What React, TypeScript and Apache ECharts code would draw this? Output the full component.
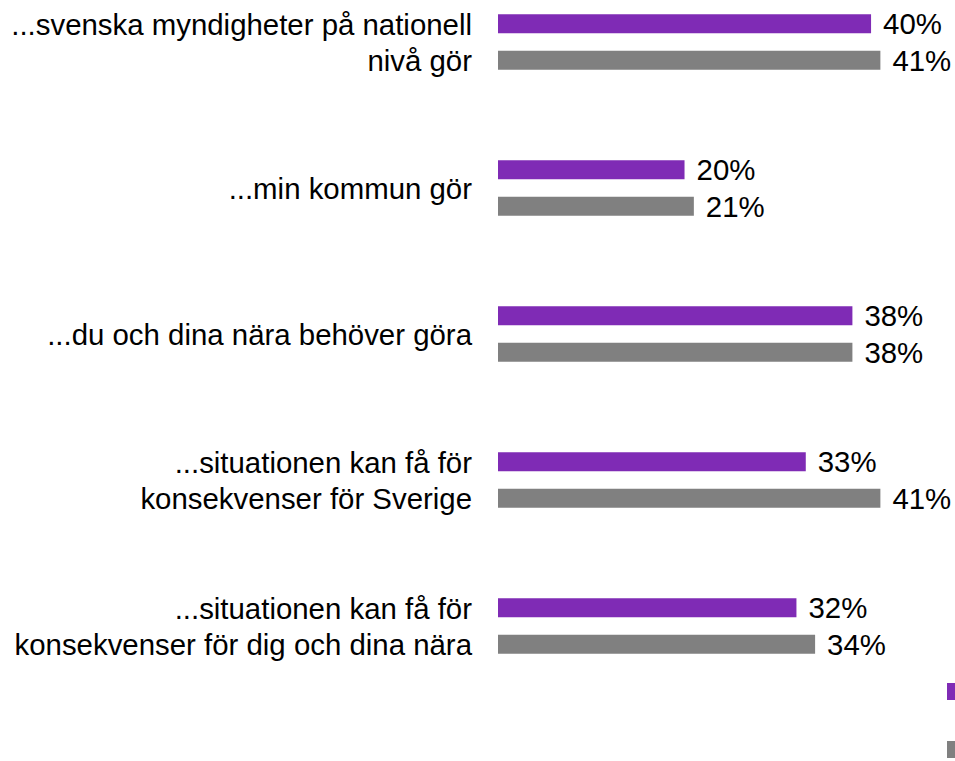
import React, { useEffect, useRef } from "react";
import * as echarts from "echarts";

const categories: string[] = [
  "...svenska myndigheter på nationell\nnivå gör",
  "...min kommun gör",
  "...du och dina nära behöver göra",
  "...situationen kan få för\nkonsekvenser för Sverige",
  "...situationen kan få för\nkonsekvenser för dig och dina nära",
];
const seriesNames: string[] = ["Serie 1", "Serie 2"];
const purpleValues: number[] = [40, 20, 38, 33, 32];
const grayValues: number[] = [41, 21, 38, 41, 34];
const colors: string[] = ["#7f2bb5", "#808080"];

const FONT = "'Liberation Sans', Arial, sans-serif";

export default function App() {
  const ref = useRef<HTMLDivElement>(null);
  useEffect(() => {
    if (!ref.current) return;
    const chart = echarts.init(ref.current, null, { renderer: "svg" });
    const labelStyle = {
      show: true,
      position: "right" as const,
      distance: 12,
      formatter: "{c}%",
      fontSize: 29.4,
      fontFamily: FONT,
      color: "#000",
    };
    const legendBase = {
      orient: "vertical" as const,
      left: 947,
      itemWidth: 8,
      itemHeight: 17,
      itemGap: 0,
      padding: 0,
      icon: "rect",
      formatter: () => "",
    };
    chart.setOption({
      animation: false,
      backgroundColor: "#fff",
      textStyle: { fontFamily: FONT },
      legend: [
        { ...legendBase, top: 683, data: [seriesNames[0]] },
        { ...legendBase, top: 741, data: [seriesNames[1]] },
      ],
      grid: { left: 498, right: 0, top: 42, height: 584, containLabel: false },
      xAxis: {
        type: "value",
        min: 0,
        max: 49,
        show: false,
      },
      yAxis: {
        type: "category",
        inverse: true,
        boundaryGap: false,
        data: categories,
        axisLine: { show: false },
        axisTick: { show: false },
        splitLine: { show: false },
        axisLabel: {
          margin: 26,
          fontSize: 29.4,
          lineHeight: 36,
          color: "#000",
          fontFamily: FONT,
          align: "right",
        },
      },
      series: [
        {
          name: seriesNames[0],
          type: "bar",
          data: purpleValues,
          barWidth: 19,
          barGap: "93%",
          clip: false,
          itemStyle: { color: colors[0] },
          label: labelStyle,
        },
        {
          name: seriesNames[1],
          type: "bar",
          data: grayValues,
          barWidth: 19,
          barGap: "93%",
          clip: false,
          itemStyle: { color: colors[1] },
          label: labelStyle,
        },
      ],
    });
    return () => chart.dispose();
  }, []);
  return (
    <div
      ref={ref}
      style={{ position: "absolute", left: 0, top: 0, width: 955, height: 761 }}
    />
  );
}
